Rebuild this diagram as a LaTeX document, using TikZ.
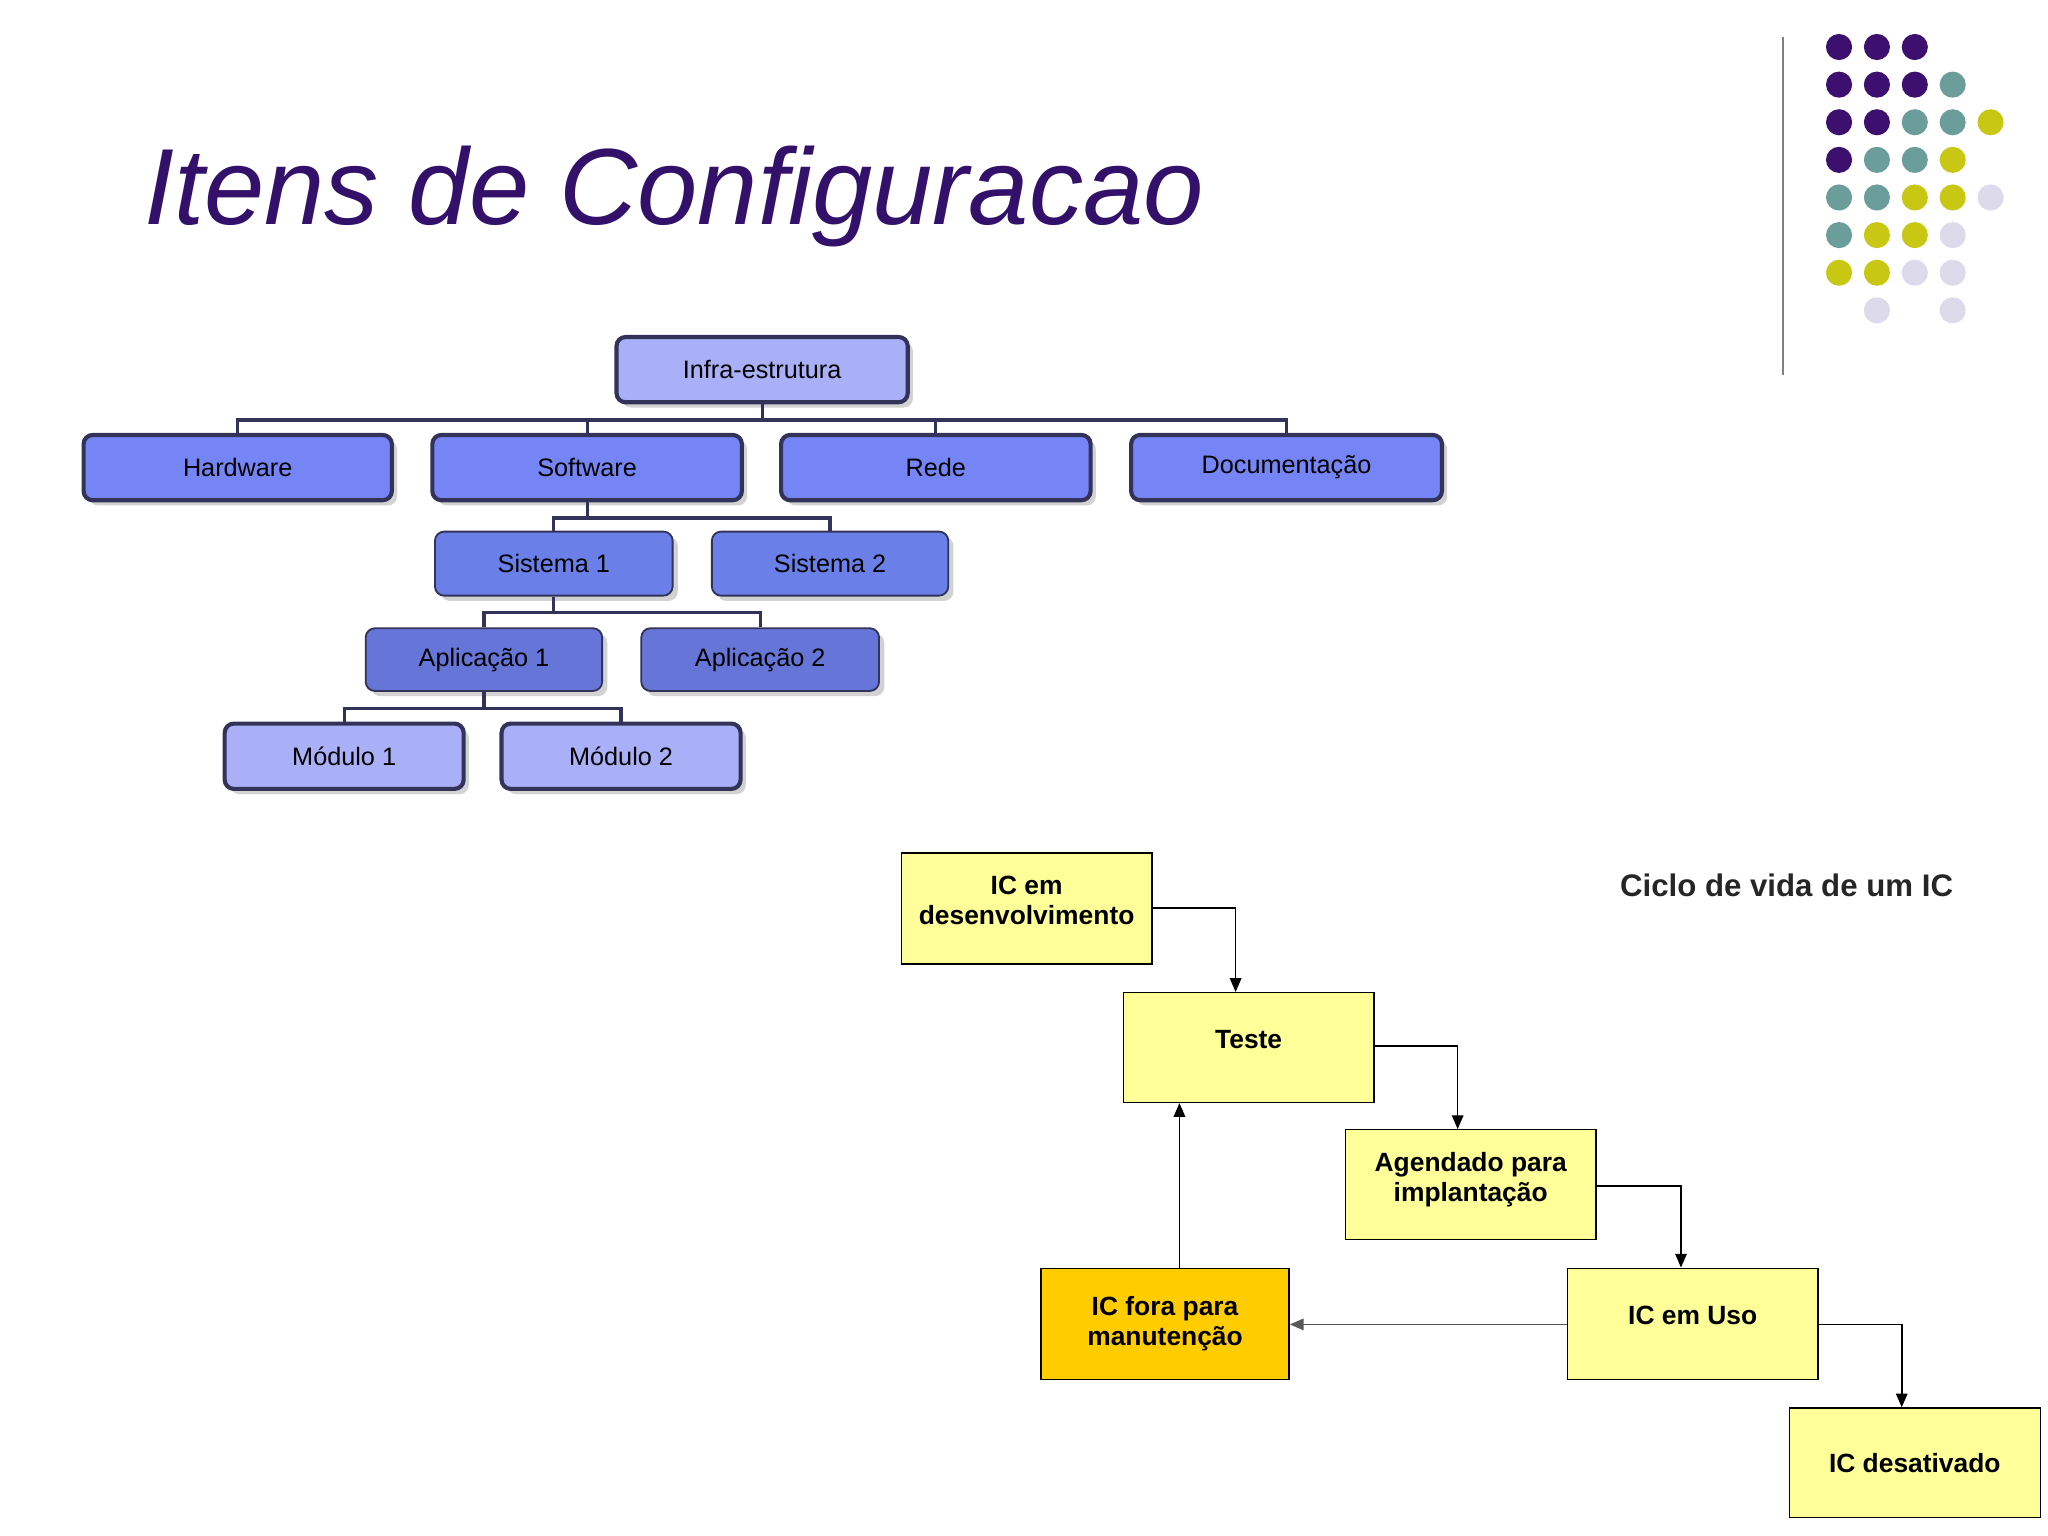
\documentclass[tikz,border=0pt]{standalone}
\usepackage{fontspec}
\setmainfont{Liberation Sans}
\usetikzlibrary{arrows.meta}
\definecolor{ttl}{HTML}{33106A}
\definecolor{dP}{HTML}{3D0F6E}
\definecolor{dT}{HTML}{6B9E9B}
\definecolor{dY}{HTML}{C8C814}
\definecolor{dL}{HTML}{DCDAEB}
\definecolor{bord}{HTML}{33335A}
\definecolor{light}{HTML}{AAB0F8}
\definecolor{mid}{HTML}{7585F5}
\definecolor{sis}{HTML}{6B7FE8}
\definecolor{app}{HTML}{6676D8}
\definecolor{ylw}{HTML}{FFFF99}
\definecolor{orng}{HTML}{FFCC00}
\tikzset{
 org/.style={draw=bord,rounded corners=4pt,inner sep=0pt,font=\fontsize{11}{13}\selectfont},
 conn/.style={draw=bord,line width=1.4pt},
 life/.style={draw=black,line width=0.6pt,fill=ylw,inner sep=0pt,align=center,font=\bfseries\fontsize{11.5}{13}\selectfont},
 arr/.style={draw=black,line width=0.7pt,-{Triangle[length=6pt,width=5pt]}}
}
\begin{document}
\begin{tikzpicture}[x=0.02cm,y=-0.02cm]
\useasboundingbox (0,0) rectangle (1568,1176);
% title
\node[anchor=base west,inner sep=0,text=ttl,font=\itshape\fontsize{47.2}{50}\selectfont] (title) at (110,172) {Itens de Configuracao};
\draw[gray,line width=1pt] (1365,28) -- (1365,287);
% dots
\foreach \c/\r/\col in {0/0/dP,1/0/dP,2/0/dP,
 0/1/dP,1/1/dP,2/1/dP,3/1/dT,
 0/2/dP,1/2/dP,2/2/dT,3/2/dT,4/2/dY,
 0/3/dP,1/3/dT,2/3/dT,3/3/dY,
 0/4/dT,1/4/dT,2/4/dY,3/4/dY,4/4/dL,
 0/5/dT,1/5/dY,2/5/dY,3/5/dL,
 0/6/dY,1/6/dY,2/6/dL,3/6/dL,
 1/7/dL,3/7/dL}
 \fill[\col] ({1408+29*\c},{36+28.8*\r}) circle (10);
% org chart
\foreach \n/\a/\b/\c/\d/\f/\w/\t in {
 infra/472/695/258/308/light/1.8pt/Infra-estrutura,
 hw/64/300/333/383/mid/1.8pt/Hardware,
 sw/331/568/333/383/mid/1.8pt/Software,
 rede/598/835/333/383/mid/1.8pt/Rede,
 doc/866/1104/333/383/mid/1.8pt/Documentação,
 s1/333/515/407/456/sis/0.8pt/Sistema 1,
 s2/545/726/407/456/sis/0.8pt/Sistema 2,
 a1/280/461/481/529/app/0.8pt/Aplicação 1,
 a2/491/673/481/529/app/0.8pt/Aplicação 2,
 m1/172/355/554/604/light/1.8pt/Módulo 1,
 m2/384/567/554/604/light/1.8pt/Módulo 2}
{
 \fill[gray!35,rounded corners=4pt] (\a+4,\c+4) rectangle (\b+4,\d+4);
 \node[org,fill=\f,line width=\w,minimum width={(\b-\a)*0.02cm},minimum height={(\d-\c)*0.02cm}] (\n) at ({(\a+\b)/2},{(\c+\d)/2}) {\t};
}
\draw[conn] (infra.south) -- ++(0,12) coordinate (j1);
\draw[conn] (hw.north) |- (j1) -| (doc.north);
\draw[conn] (sw.north) |- (j1);
\draw[conn] (rede.north) |- (j1);
\draw[conn] (sw.south) -- ++(0,12) coordinate (j2);
\draw[conn] (s1.north) |- (j2) -| (s2.north);
\draw[conn] (s1.south) -- ++(0,12) coordinate (j3);
\draw[conn] (a1.north) |- (j3) -| (a2.north);
\draw[conn] (a1.south) -- ++(0,13) coordinate (j4);
\draw[conn] (m1.north) |- (j4) -| (m2.north);
% lifecycle
\newcommand{\lbox}[7]{\node[life,fill=#6,minimum width={(#3-#2)*0.02cm},minimum height={(#5-#4)*0.02cm}] (#1) at ({(#2+#3)/2},{(#4+#5)/2}) {#7};}
\lbox{dev}{690}{882}{653}{738}{ylw}{IC em\\desenvolvimento\\[-6pt]\mbox{}}
\lbox{teste}{860}{1052}{760}{844}{ylw}{Teste\\[-6pt]\mbox{}}
\lbox{agen}{1030}{1222}{865}{949}{ylw}{Agendado para\\implantação\\[-6pt]\mbox{}}
\lbox{uso}{1200}{1392}{971}{1056}{ylw}{IC em Uso\\[-6pt]\mbox{}}
\lbox{desat}{1370}{1562}{1078}{1162}{ylw}{IC desativado}
\lbox{fora}{797}{987}{971}{1056}{orng}{IC fora para\\manutenção}
\draw[arr] (dev.east |- 0,695) -| (teste.north -| 946,0);
\draw[arr] (teste.east |- 0,801) -| (agen.north -| 1116,0);
\draw[arr] (agen.east |- 0,908) -| (uso.north -| 1287,0);
\draw[arr] (uso.east |- 0,1014) -| (desat.north -| 1456,0);
\draw[arr,draw=gray!70!black] (uso.west |- 0,1014) -- (fora.east |- 0,1014);
\draw[arr] (fora.north -| 903,0) -- (teste.south -| 903,0);
\node[anchor=base west,inner sep=0,font=\bfseries\fontsize{13.6}{15}\selectfont,text=black!85] (ciclo) at (1240,686) {Ciclo de vida de um IC};
\end{tikzpicture}
\end{document}
